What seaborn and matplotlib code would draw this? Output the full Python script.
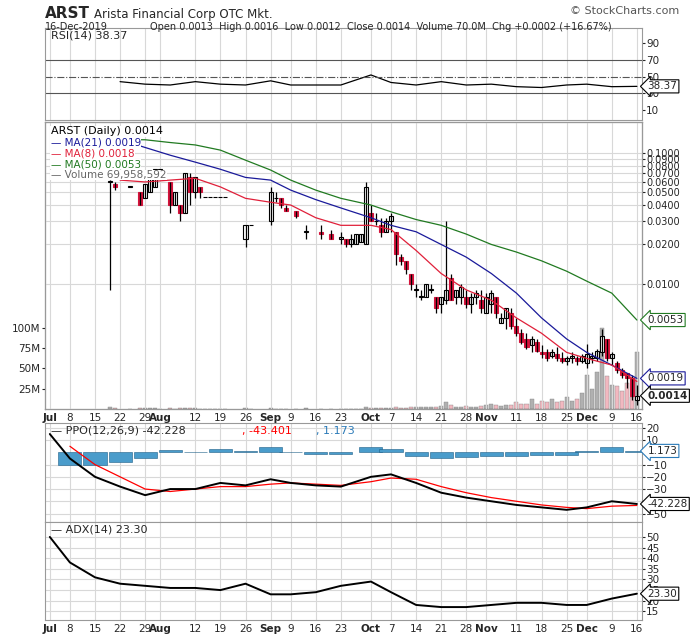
import numpy as np
import pandas as pd
import matplotlib
matplotlib.use("Agg")
import matplotlib.pyplot as plt
import seaborn as sns

# trading calendar
days = pd.bdate_range("2019-07-01", "2019-12-16")
days = days[~days.isin(pd.to_datetime(["2019-07-04", "2019-09-02", "2019-11-28"]))]
pos = {d: i for i, d in enumerate(days)}

# daily candles: date, open, high, low, close, volume (M)
c_date = ["07-18", "07-19", "07-24", "07-26", "07-29", "07-30", "07-31", "08-01", "08-05", "08-06",
          "08-07", "08-08", "08-09", "08-12", "08-13", "08-14", "08-15", "08-16", "08-19", "08-20",
          "08-26", "08-27", "09-03", "09-04", "09-05", "09-06", "09-10", "09-12", "09-17", "09-19",
          "09-23", "09-24", "09-25", "09-26", "09-27", "09-30", "10-01", "10-02", "10-03", "10-04",
          "10-07", "10-08", "10-09", "10-10", "10-11", "10-14", "10-15", "10-16", "10-17", "10-18",
          "10-21", "10-22", "10-23", "10-24", "10-25", "10-28", "10-29", "10-30", "10-31", "11-01",
          "11-04", "11-05", "11-06", "11-07", "11-08", "11-11", "11-12", "11-13", "11-14", "11-15",
          "11-18", "11-19", "11-20", "11-21", "11-22", "11-25", "11-26", "11-27", "11-29", "12-02",
          "12-03", "12-04", "12-05", "12-06", "12-09", "12-10", "12-11", "12-12", "12-13", "12-16"]
c_open = [.060, .058, .055, .050, .045, .050, .055, .070, .060, .040, .040, .035, .065, .050, .055,
          .046, .046, .046, .046, .046, .022, .028, .030, .045, .045, .038, .036, .025, .025, .024,
          .022, .022, .020, .020, .021, .020, .035, .030, .028, .025, .030, .025, .016, .015, .012,
          .009, .008, .008, .009, .008, .007, .0075, .011, .008, .008, .008, .007, .008, .0075, .006,
          .007, .008, .005, .0055, .006, .0048, .0042, .0038, .0034, .0036, .003, .003, .0028, .0029,
          .0027, .0026, .0027, .0027, .0026, .0025, .0027, .0027, .0030, .0038, .0027, .0025, .0022,
          .0021, .0019, .0013]
c_high = [.062, .060, .055, .050, .058, .065, .075, .075, .060, .050, .040, .070, .070, .065, .055,
          .046, .046, .046, .046, .046, .028, .028, .055, .050, .045, .040, .036, .028, .028, .026,
          .025, .022, .024, .024, .024, .060, .040, .035, .032, .032, .035, .025, .017, .015, .012,
          .010, .009, .010, .010, .008, .008, .030, .012, .009, .010, .009, .0085, .009, .009, .0085,
          .009, .008, .006, .0065, .0065, .0055, .0045, .0042, .004, .0038, .0034, .0032, .0032, .0033,
          .003, .0028, .003, .0028, .0029, .0035, .003, .0032, .0045, .0038, .003, .0026, .0023,
          .0021, .0020, .0017]
c_low = [.009, .052, .055, .040, .045, .050, .055, .070, .035, .040, .030, .035, .040, .045, .045,
         .046, .046, .046, .046, .046, .019, .028, .028, .042, .038, .036, .032, .022, .022, .022,
         .020, .019, .019, .020, .021, .020, .030, .028, .023, .025, .025, .014, .014, .012, .009,
         .008, .0075, .008, .0085, .006, .006, .007, .0075, .007, .007, .0065, .006, .007, .006, .006,
         .006, .0055, .005, .0045, .0045, .004, .0035, .0032, .003, .003, .0027, .0026, .0027, .0026,
         .0025, .0024, .0025, .0024, .0025, .0023, .0025, .0026, .0028, .0026, .0024, .0021, .0019,
         .0016, .0013, .0012]
c_close = [.060, .055, .055, .040, .058, .065, .075, .075, .040, .050, .035, .070, .050, .065, .050,
           .046, .046, .046, .046, .046, .028, .028, .050, .045, .040, .036, .033, .025, .024, .022,
           .023, .020, .022, .024, .024, .055, .030, .030, .025, .030, .033, .017, .015, .013, .010,
           .009, .008, .010, .009, .0065, .008, .009, .0075, .009, .0095, .007, .008, .0085, .0065, .008,
           .0085, .006, .0055, .0065, .0048, .0042, .0036, .0033, .0038, .0031, .0029, .0027, .0030,
           .0027, .0026, .0027, .0028, .0026, .0028, .0029, .0028, .0031, .0040, .0027, .0029, .0022,
           .0020, .0019, .0014, .0014]
c_vol = [2, 1, 0.5, 1, 1, 1, 1, 0.5, 1, 0.5, 1, 1, 1, 1, 0.5, 0.3, 0.3, 0.3, 0.3, 0.3, 1, 0.5, 1,
         0.5, 0.5, 0.5, 0.5, 1, 0.5, 0.5, 0.5, 0.5, 0.5, 0.5, 0.5, 3, 1, 1, 1, 1, 1, 2, 1, 1, 2,
         2, 2, 3, 2, 3, 4, 8, 5, 3, 3, 4, 3, 3, 4, 5, 6, 5, 4, 5, 5, 8, 6, 6, 12, 6, 10, 8, 12, 8,
         10, 15, 10, 12, 20, 42, 25, 45, 100, 40, 30, 28, 22, 32, 15, 70]

# weekly readings of the indicators
w_date = ["07-01", "07-08", "07-15", "07-22", "07-29", "08-05", "08-12", "08-19", "08-26", "09-03",
          "09-09", "09-16", "09-23", "10-01", "10-07", "10-14", "10-21", "10-28", "11-04", "11-11",
          "11-18", "11-25", "12-02", "12-09", "12-16"]
ma50 = [np.nan, np.nan, np.nan, .126, .126, .120, .115, .105, .088, .074, .062, .052, .045, .040,
        .0355, .031, .028, .024, .020, .0175, .0150, .0125, .0105, .0085, .0053]
ma21 = [np.nan, np.nan, np.nan, .126, .110, .096, .085, .075, .065, .062, .052, .044, .038, .032,
        .028, .025, .020, .016, .012, .0085, .0055, .0038, .0030, .0024, .0019]
ma8 = [np.nan, np.nan, np.nan, .062, .060, .062, .064, .055, .045, .042, .040, .032, .028, .028,
       .026, .018, .012, .009, .0075, .0055, .0042, .0030, .0027, .0024, .0018]
rsi = [np.nan, np.nan, np.nan, 44, 41, 40, 44, 41, 40, 45, 40, 40, 40, 52, 43, 40, 44, 40, 41, 38,
       37, 40, 41, 38, 38.37]
ppo = [15, -5, -20, -28, -35, -30, -30, -25, -27, -22, -25, -27, -28, -20, -18, -25, -33, -37, -40,
       -43, -45, -47, -45, -40, -42.2]
ppo_sig = [np.nan, 5, -10, -20, -30, -32, -30, -28, -28, -26, -25, -26, -27, -24, -21, -22, -28,
           -33, -37, -40, -43, -45, -46, -44, -43.4]
adx = [50, 38, 31, 28, 27, 26, 26, 25, 28, 23, 23, 24, 27, 29, 24, 18, 17, 17, 18, 19, 19, 18, 18,
       21, 23.3]

tick_date = ["07-01", "07-08", "07-15", "07-22", "07-29", "08-01", "08-12", "08-19", "08-26", "09-03",
             "09-09", "09-16", "09-23", "10-01", "10-07", "10-14", "10-21", "10-28", "11-01", "11-11",
             "11-18", "11-25", "12-02", "12-09", "12-16"]
tick_lab = ["Jul", "8", "15", "22", "29", "Aug", "12", "19", "26", "Sep", "9", "16", "23", "Oct", "7",
            "14", "21", "28", "Nov", "11", "18", "25", "Dec", "9", "16"]


def ix(md):
    return pos[pd.Timestamp("2019-" + md)]


cx = np.array([ix(d) for d in c_date])
wx = np.array([ix(d) for d in w_date])
tx = [ix(d) for d in tick_date]
c_open, c_close = np.array(c_open), np.array(c_close)
up = c_close >= c_open

sns.set_style("white")
plt.rcParams["font.family"] = ["DejaVu Sans"]
fig = plt.figure(figsize=(7, 6.39), dpi=100)
L, W = 0.064, 0.853
ax_rsi = fig.add_axes([L, 0.812, W, 0.144])
ax = fig.add_axes([L, 0.36, W, 0.449])
ax_ppo = fig.add_axes([L, 0.183, W, 0.155])
ax_adx = fig.add_axes([L, 0.03, W, 0.153])
for a in [ax_rsi, ax, ax_ppo, ax_adx]:
    a.set_xlim(-1, len(days))
    a.set_xticks(tx)
    a.grid(axis="x", color="#d8d8d8", lw=0.8)
    a.tick_params(labelsize=7.5, length=2, pad=1)
    for s in a.spines.values():
        s.set_color("#999999")
    a.tick_params(labelbottom=False)


def style_dates(a):
    a.tick_params(labelbottom=True)
    a.set_xticklabels(tick_lab)
    for lab in a.get_xticklabels():
        if not lab.get_text().isdigit():
            lab.set_fontweight("bold")


# RSI
sns.lineplot(x=wx, y=rsi, ax=ax_rsi, color="black", lw=0.9)
ax_rsi.set_ylim(-2, 108)
ax_rsi.set_yticks([10, 30, 50, 70, 90])
ax_rsi.yaxis.tick_right()
ax_rsi.axhline(70, color="#555555", lw=0.8)
ax_rsi.axhline(30, color="#555555", lw=0.8)
ax_rsi.axhline(50, color="#555555", lw=0.8, ls="-.")
ax_rsi.text(0.01, 0.97, "RSI(14) 38.37", transform=ax_rsi.transAxes, fontsize=8, va="top")
ax_rsi.annotate("38.37", xy=(1.0, 38.37), xycoords=("axes fraction", "data"), xytext=(4, 0),
                textcoords="offset points", fontsize=7.5, va="center",
                bbox=dict(boxstyle="larrow,pad=0.15", fc="white", ec="black", lw=0.8))

# price panel with volume overlay
vol = ax.twinx()
vol.bar(cx, c_vol, width=0.8, color=np.where(up, "#b0b0b0", "#f2b8c0"), edgecolor="#888888", lw=0.3)
vol.set_ylim(0, 353)
vol.set_yticks([25, 50, 75, 100])
vol.set_yticklabels(["25M", "50M", "75M", "100M"])
vol.yaxis.tick_left()
vol.tick_params(labelsize=7.5, length=2, pad=1)
vol.set_zorder(0)
ax.set_zorder(1)
ax.patch.set_visible(False)

ax.set_yscale("log")
ax.set_ylim(0.00111, 0.172)
pt = [0.0100, 0.0200, 0.0300, 0.0400, 0.0500, 0.0600, 0.0700, 0.0800, 0.0900, 0.1000]
ax.set_yticks(pt)
ax.set_yticklabels([f"{v:.4f}" for v in pt], fontsize=7)
ax.minorticks_off()
ax.yaxis.tick_right()
ax.grid(axis="y", color="#d8d8d8", lw=0.8)
ax.vlines(cx, c_low, c_high, color="black", lw=0.9)
body_lo = np.minimum(c_open, c_close)
body_h = np.abs(c_close - c_open)
body_h = np.where(body_h == 0, body_lo * 0.01, body_h)
ax.bar(cx, body_h, bottom=body_lo, width=0.8,
       color=np.where(up, "white", "#d5143c"), edgecolor=np.where(up, "black", "#d5143c"), lw=0.8)
sns.lineplot(x=wx, y=ma50, ax=ax, color="#217a21", lw=0.9)
sns.lineplot(x=wx, y=ma21, ax=ax, color="#1a1a9a", lw=0.9)
sns.lineplot(x=wx, y=ma8, ax=ax, color="#e0203a", lw=0.9)
leg = [("ARST (Daily) 0.0014", "black"), ("MA(21) 0.0019", "#1a1a9a"),
       ("MA(8) 0.0018", "#e0203a"), ("MA(50) 0.0053", "#217a21"),
       ("Volume 69,958,592", "#666666")]
for i, (t, c) in enumerate(leg):
    ax.text(0.01, 0.985 - i * 0.038, "— " + t if i else t, transform=ax.transAxes,
            fontsize=7.5 if i else 8, color=c, va="top",
            bbox=dict(fc="white", ec="none", pad=0.3))
for v, c in [(0.0053, "#217a21"), (0.0019, "#1a1a9a"), (0.0014, "black")]:
    ax.annotate(f"{v:.4f}", xy=(1.0, v), xycoords=("axes fraction", "data"), xytext=(4, 0),
                textcoords="offset points", fontsize=7.5, va="center",
                fontweight="bold" if c == "black" else "normal",
                bbox=dict(boxstyle="larrow,pad=0.15", fc="white", ec=c, lw=0.8))
style_dates(ax)

# PPO
hist = np.array(ppo) - np.array(ppo_sig)
ax_ppo.bar(wx, hist, width=4.6, color="#4a9ccb", edgecolor="#1d5f88", lw=0.4)
sns.lineplot(x=wx, y=ppo_sig, ax=ax_ppo, color="red", lw=0.9)
sns.lineplot(x=wx, y=ppo, ax=ax_ppo, color="black", lw=1.4)
ax_ppo.set_ylim(-57, 24)
ax_ppo.set_yticks([20, 10, -10, -20, -30, -40, -50])
ax_ppo.yaxis.tick_right()
ax_ppo.grid(axis="y", color="#d8d8d8", lw=0.8)
t1 = ax_ppo.text(0.01, 0.97, "— PPO(12,26,9) -42.228", transform=ax_ppo.transAxes, fontsize=8, va="top")
ax_ppo.text(0.33, 0.97, ", -43.401", transform=ax_ppo.transAxes, fontsize=8, va="top", color="red")
ax_ppo.text(0.455, 0.97, ", 1.173", transform=ax_ppo.transAxes, fontsize=8, va="top", color="#2a7ab8")
ax_ppo.annotate("1.173", xy=(1.0, 1.173), xycoords=("axes fraction", "data"), xytext=(4, 0),
                textcoords="offset points", fontsize=7.5, va="center",
                bbox=dict(boxstyle="larrow,pad=0.15", fc="white", ec="#2a7ab8", lw=0.8))
ax_ppo.annotate("-42.228", xy=(1.0, -42.2), xycoords=("axes fraction", "data"), xytext=(4, 0),
                textcoords="offset points", fontsize=7.5, va="center",
                bbox=dict(boxstyle="larrow,pad=0.15", fc="white", ec="black", lw=0.8))

# ADX
sns.lineplot(x=wx, y=adx, ax=ax_adx, color="black", lw=1.4)
ax_adx.set_ylim(11, 57)
ax_adx.set_yticks([15, 20, 25, 30, 35, 40, 45, 50])
ax_adx.yaxis.tick_right()
ax_adx.grid(axis="y", color="#d8d8d8", lw=0.8)
ax_adx.text(0.01, 0.97, "— ADX(14) 23.30", transform=ax_adx.transAxes, fontsize=8, va="top")
ax_adx.annotate("23.30", xy=(1.0, 23.3), xycoords=("axes fraction", "data"), xytext=(4, 0),
                textcoords="offset points", fontsize=7.5, va="center",
                bbox=dict(boxstyle="larrow,pad=0.15", fc="white", ec="black", lw=0.8))
style_dates(ax_adx)

fig.text(0.064, 0.99, "ARST", fontsize=11, fontweight="bold", va="top")
fig.text(0.135, 0.987, "Arista Financial Corp OTC Mkt.", fontsize=8.5, va="top")
fig.text(0.064, 0.965, "16-Dec-2019", fontsize=7, va="top")
fig.text(0.215, 0.965, "Open 0.0013  High 0.0016  Low 0.0012  Close 0.0014  Volume 70.0M  Chg +0.0002 (+16.67%)",
         fontsize=7, va="top")
fig.text(0.97, 0.99, "© StockCharts.com", fontsize=8, va="top", ha="right", color="#555555")

fig.savefig("out.png", dpi=100)
plt.close(fig)
